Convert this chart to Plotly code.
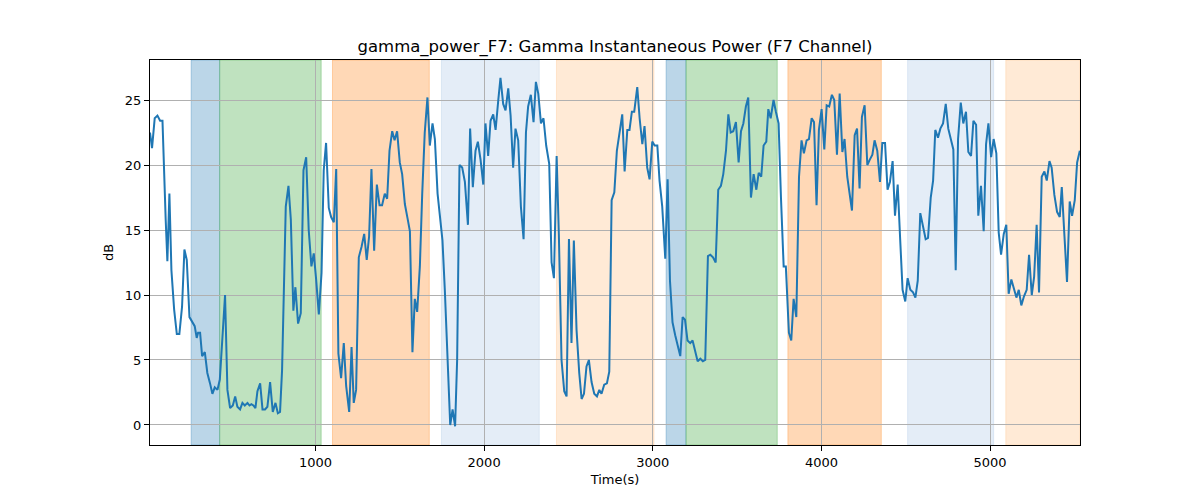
import plotly.graph_objects as go

# Gamma power trace (time in s, power in dB)
time_s = [19, 31, 47, 63, 79, 93, 112, 122, 134, 146, 162, 178, 193, 209, 223, 237,
          253, 267, 284, 296, 304, 316, 328, 344, 359, 375, 389, 403, 419, 433, 450, 464,
          478, 494, 510, 524, 537, 553, 567, 581, 597, 609, 620, 632, 644, 656, 672, 686,
          701, 715, 731, 747, 763, 777, 790, 802, 824, 840, 854, 869, 881, 897, 913, 929,
          945, 960, 976, 990, 1004, 1020, 1036, 1049, 1063, 1079, 1093, 1109, 1123, 1136,
          1152, 1168, 1182, 1200, 1214, 1227, 1241, 1257, 1273, 1289, 1304, 1318, 1332,
          1348, 1364, 1380, 1395, 1411, 1425, 1439, 1455, 1469, 1484, 1500, 1514, 1530,
          1546, 1560, 1575, 1589, 1603, 1619, 1633, 1648, 1664, 1678, 1694, 1708, 1724,
          1737, 1753, 1767, 1781, 1799, 1813, 1828, 1840, 1854, 1870, 1886, 1904, 1917,
          1933, 1949, 1963, 1979, 1995, 2008, 2024, 2038, 2054, 2068, 2084, 2097, 2113,
          2127, 2143, 2157, 2172, 2186, 2202, 2218, 2234, 2248, 2261, 2277, 2293, 2307,
          2321, 2337, 2352, 2368, 2386, 2400, 2414, 2430, 2443, 2459, 2475, 2489, 2503,
          2518, 2532, 2548, 2564, 2578, 2592, 2607, 2621, 2637, 2653, 2669, 2683, 2696,
          2712, 2728, 2742, 2756, 2772, 2787, 2803, 2819, 2833, 2849, 2862, 2876, 2890,
          2908, 2922, 2938, 2951, 2967, 2981, 2997, 3011, 3027, 3040, 3056, 3074, 3088,
          3102, 3117, 3133, 3149, 3163, 3177, 3191, 3206, 3222, 3236, 3252, 3266, 3282,
          3297, 3311, 3327, 3341, 3357, 3373, 3388, 3404, 3418, 3434, 3448, 3462, 3477,
          3493, 3509, 3523, 3537, 3552, 3566, 3582, 3598, 3614, 3628, 3643, 3657, 3673,
          3685, 3699, 3716, 3730, 3746, 3760, 3776, 3789, 3807, 3821, 3835, 3851, 3867,
          3882, 3896, 3912, 3926, 3942, 3956, 3971, 3985, 4001, 4017, 4031, 4046, 4062,
          4076, 4092, 4108, 4124, 4137, 4153, 4167, 4181, 4197, 4211, 4226, 4240, 4256,
          4272, 4286, 4302, 4315, 4331, 4347, 4361, 4377, 4392, 4406, 4422, 4436, 4452,
          4466, 4481, 4497, 4511, 4527, 4543, 4557, 4571, 4586, 4602, 4618, 4632, 4648,
          4662, 4675, 4691, 4705, 4721, 4737, 4752, 4768, 4782, 4796, 4810, 4826, 4841,
          4857, 4871, 4887, 4901, 4917, 4930, 4946, 4962, 4976, 4990, 5006, 5021, 5037,
          5051, 5065, 5081, 5096, 5110, 5126, 5142, 5156, 5170, 5185, 5201, 5217, 5231,
          5247, 5261, 5276, 5290, 5306, 5322, 5336, 5352, 5365, 5381, 5397, 5413, 5425,
          5441, 5456, 5472, 5486, 5502, 5516, 5532]
power_db = [22.5, 21.3, 23.6, 23.8, 23.4, 23.4, 15.8, 12.6, 17.8, 11.9, 8.9, 7.0, 7.0, 9.1,
            13.5, 12.7, 8.3, 8.0, 7.6, 6.7, 7.1, 7.1, 5.3, 5.6, 4.0, 3.2, 2.4, 2.9, 2.7,
            3.5, 6.8, 10.0, 2.7, 1.3, 1.5, 2.2, 1.4, 1.2, 1.7, 1.5, 1.7, 1.5, 1.6, 1.5,
            1.3, 2.6, 3.2, 1.2, 1.2, 1.4, 3.3, 1.0, 1.7, 0.9, 1.0, 4.2, 16.8, 18.4, 15.8,
            8.8, 10.6, 7.8, 8.6, 19.6, 20.6, 15.0, 12.2, 13.2, 11.2, 8.5, 11.7, 19.6, 21.7,
            16.7, 16.0, 15.6, 19.7, 5.5, 3.6, 6.3, 3.0, 1.0, 6.0, 1.7, 2.7, 12.9, 13.7,
            14.7, 12.7, 14.5, 19.7, 13.4, 18.5, 16.9, 16.9, 17.8, 17.4, 21.1, 22.6, 21.9,
            22.6, 20.2, 19.3, 17.0, 15.9, 14.9, 5.6, 9.7, 8.7, 12.2, 17.8, 22.5, 25.2, 21.5,
            23.2, 22.0, 17.8, 16.0, 14.2, 10.4, 5.5, 0.0, 1.2, -0.1, 5.0, 20.0, 19.8, 18.7,
            15.4, 22.8, 18.3, 21.1, 21.8, 20.4, 18.5, 23.2, 20.7, 23.4, 23.9, 22.7, 25.0,
            26.7, 24.7, 24.2, 25.9, 23.8, 19.8, 22.8, 21.9, 16.8, 14.3, 22.5, 24.5, 25.4,
            23.3, 26.4, 25.5, 23.2, 23.6, 21.5, 20.1, 12.5, 11.3, 20.7, 14.7, 5.0, 2.6,
            2.2, 14.3, 6.3, 14.2, 7.3, 4.0, 2.0, 2.4, 4.5, 5.0, 3.3, 2.4, 2.2, 2.7, 2.4,
            3.1, 3.2, 4.1, 17.3, 17.9, 21.1, 22.5, 23.9, 19.5, 22.7, 22.7, 24.1, 24.1, 26.0,
            23.6, 21.6, 23.0, 19.8, 18.9, 21.8, 21.5, 21.5, 18.8, 16.8, 12.8, 18.9, 11.1,
            7.9, 6.9, 6.0, 5.3, 8.3, 8.1, 6.5, 6.3, 6.5, 5.6, 4.9, 5.1, 4.9, 5.0, 13.0,
            13.1, 12.9, 12.5, 18.1, 18.4, 19.3, 21.1, 23.9, 22.5, 22.6, 23.3, 20.2, 22.6,
            23.2, 24.5, 25.2, 17.5, 19.3, 18.1, 19.4, 19.1, 21.5, 21.8, 24.3, 23.6, 25.0,
            24.1, 23.2, 17.5, 12.2, 12.2, 7.1, 6.5, 9.7, 8.3, 19.1, 21.9, 20.9, 21.9, 22.0,
            23.6, 23.3, 16.9, 22.7, 24.3, 21.2, 24.6, 24.5, 25.4, 25.0, 20.8, 25.5, 21.0,
            22.0, 19.1, 17.8, 16.5, 22.3, 22.8, 18.2, 23.7, 24.6, 20.0, 20.4, 20.8, 21.9,
            21.1, 18.7, 21.7, 21.7, 18.1, 18.7, 20.3, 16.1, 18.5, 14.5, 10.4, 9.5, 11.3,
            10.4, 10.2, 9.8, 11.1, 16.3, 15.4, 14.3, 14.4, 17.5, 18.8, 22.7, 22.1, 22.8,
            23.2, 24.7, 22.8, 22.0, 21.2, 11.9, 22.0, 24.8, 23.2, 24.1, 21.0, 20.7, 23.4,
            23.1, 16.1, 18.4, 14.9, 21.6, 23.2, 20.6, 22.0, 20.9, 14.8, 13.1, 14.7, 15.4,
            10.1, 11.2, 10.5, 9.8, 10.4, 9.2, 9.9, 10.4, 13.1, 10.0, 11.4, 15.4, 10.2, 19.1,
            19.5, 18.8, 20.3, 19.8, 17.7, 16.4, 16.0, 18.3, 14.5, 11.0, 17.2, 16.1, 17.3,
            20.2, 21.1]

# Shaded stage intervals (s) and their kind
region_starts = [263, 432, 1101, 1747, 2429, 3079, 3197, 3801, 4511, 5093]
region_ends = [432, 1034, 1675, 2327, 3007, 3197, 3738, 4355, 5021, 5533]
region_kinds = ['blue', 'green', 'orange', 'lightblue', 'lightorange',
                'blue', 'green', 'orange', 'lightblue', 'lightorange']

kind_colors = {
    'blue': 'rgba(31,119,180,0.3)',
    'green': 'rgba(44,160,44,0.3)',
    'orange': 'rgba(255,127,14,0.3)',
    'lightblue': 'rgba(174,199,232,0.33)',
    'lightorange': 'rgba(255,187,120,0.3)',
}

fig = go.Figure()
fig.add_trace(go.Scatter(x=time_s, y=power_db, mode='lines',
                         line=dict(color='#1f77b4', width=2), showlegend=False))

for x0, x1, kind in zip(region_starts, region_ends, region_kinds):
    fig.add_shape(type='rect', xref='x', yref='paper', x0=x0, x1=x1, y0=0, y1=1,
                  fillcolor=kind_colors[kind], line=dict(color=kind_colors[kind], width=1),
                  layer='below')

axis_common = dict(showline=True, linecolor='black', linewidth=1, mirror=True,
                   ticks='outside', ticklen=5, tickcolor='black',
                   showgrid=True, gridcolor='#b0b0b0', gridwidth=1, zeroline=False,
                   tickfont=dict(size=13, color='black'))

# the page body adds an 8px offset, so margins are shifted to compensate
fig.update_layout(
    width=1200, height=500,
    margin=dict(l=142, r=128, t=52, b=63),
    plot_bgcolor='white', paper_bgcolor='white',
    font=dict(family='DejaVu Sans', color='black'),
    title=dict(text='gamma_power_F7: Gamma Instantaneous Power (F7 Channel)',
               x=0.5, xref='paper', y=1 - 38 / 500, yref='container', yanchor='middle',
               font=dict(size=16.5)),
    xaxis=dict(range=[19, 5533], tickvals=[1000, 2000, 3000, 4000, 5000],
               title=dict(text='Time(s)', font=dict(size=13), standoff=6), **axis_common),
    yaxis=dict(range=[-1.54, 28.08], tickvals=[0, 5, 10, 15, 20, 25],
               title=dict(text='dB', font=dict(size=13), standoff=8), **axis_common),
)

fig.write_html("out.html")
